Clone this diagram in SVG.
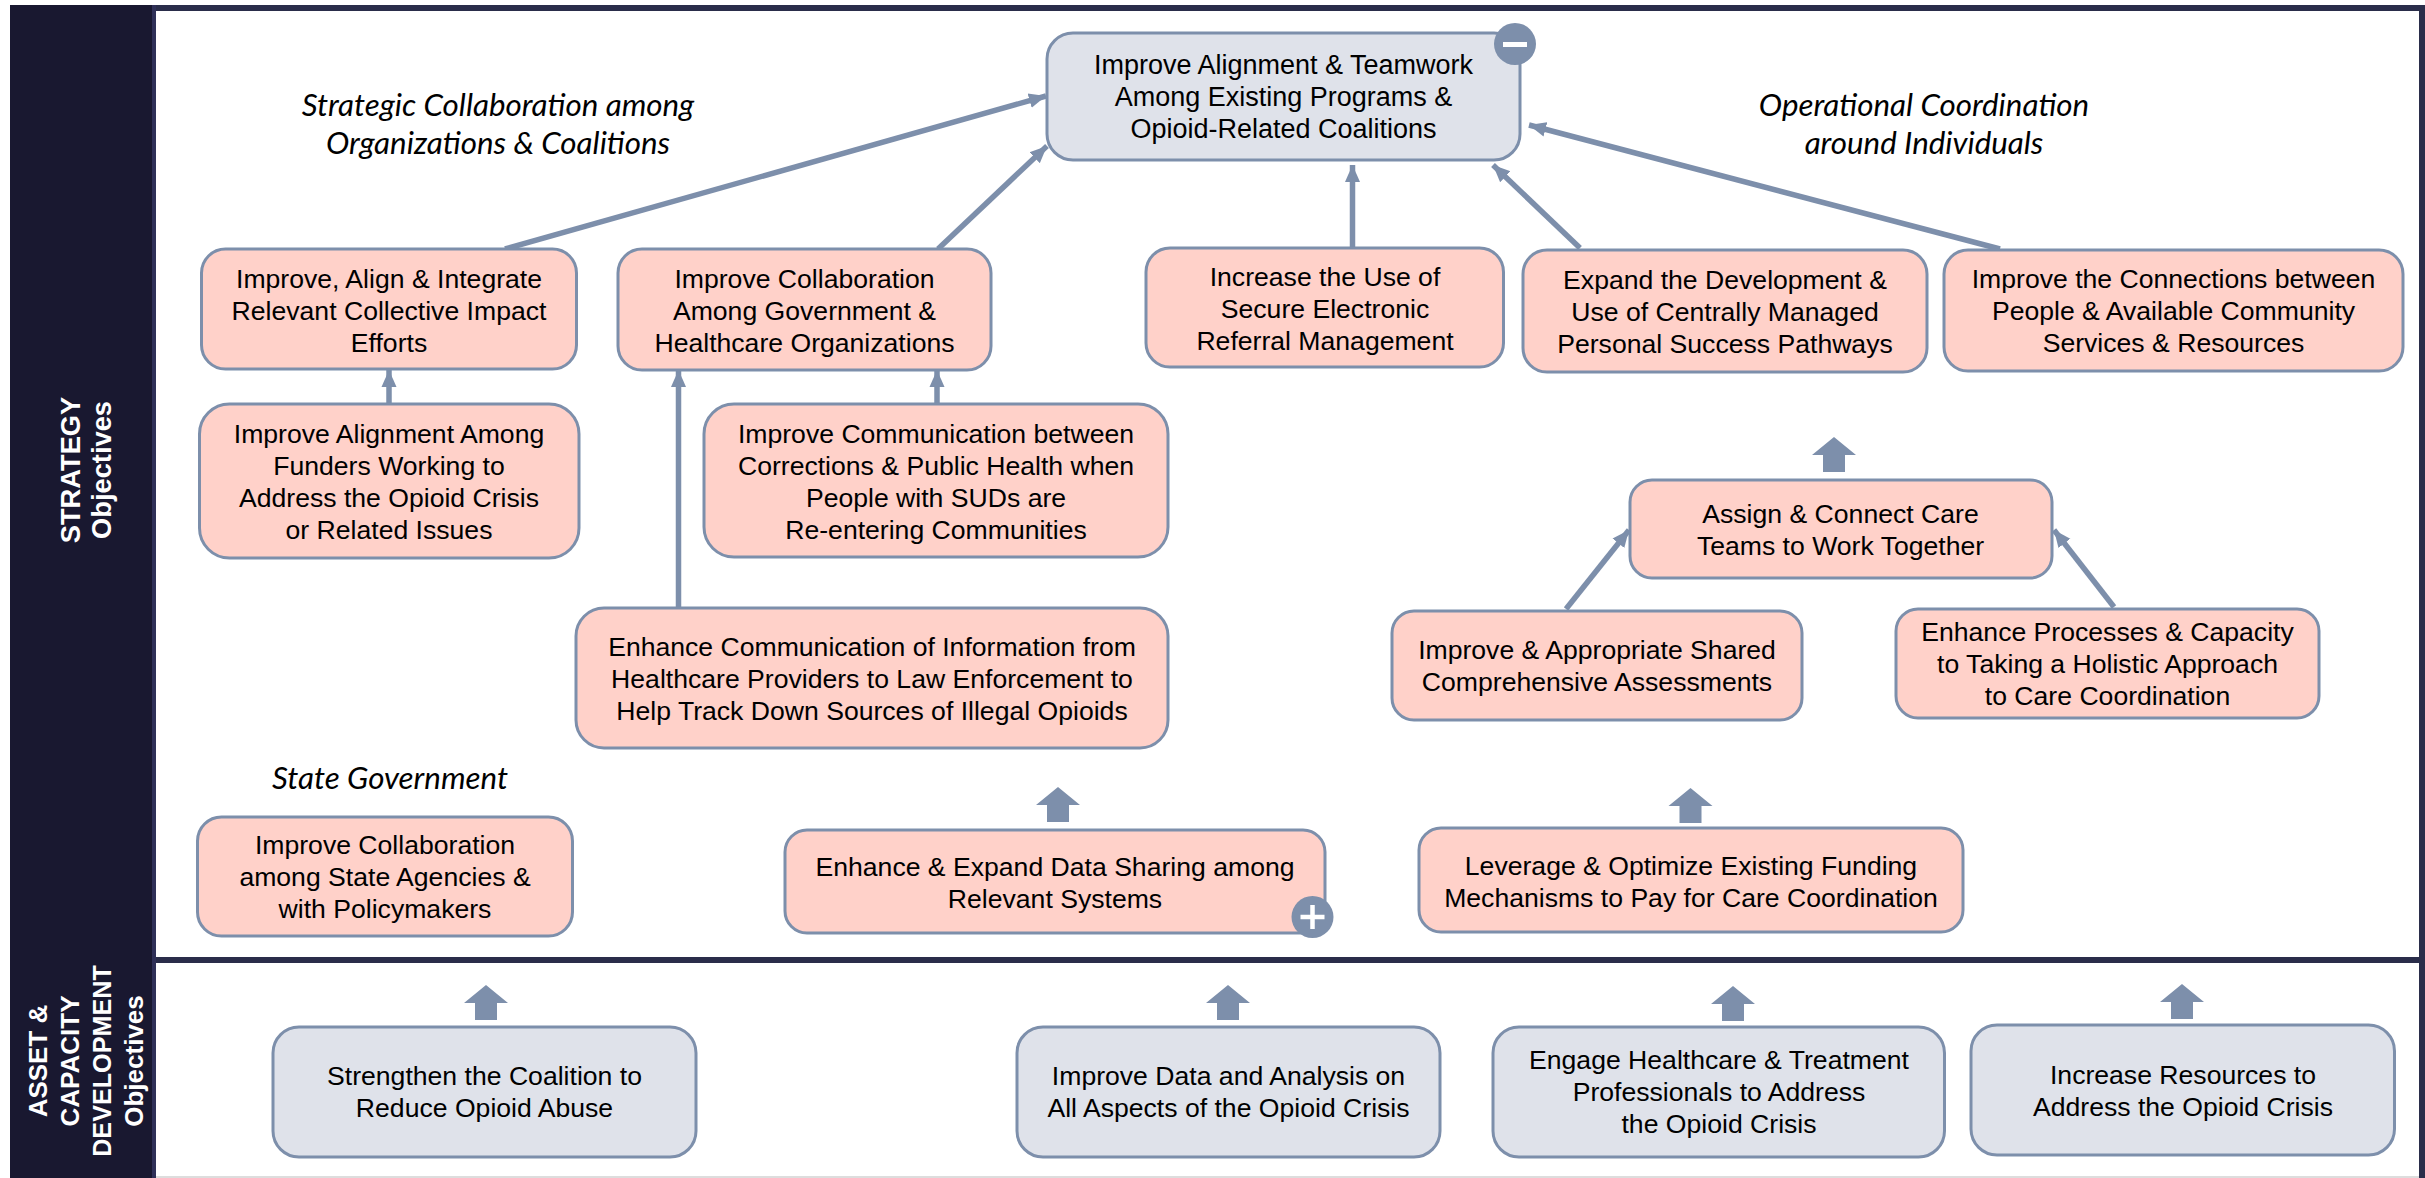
<svg xmlns="http://www.w3.org/2000/svg" width="2425" height="1178" viewBox="0 0 2425 1178">
<style>
.box{stroke:#7d8fab;stroke-width:3}
.p{fill:#ffd1c9}
.g{fill:#dfe2ea}
text{font-family:"Liberation Sans",Arial,sans-serif;font-size:26.6px;fill:#000;text-anchor:middle}
.it{font-family:"Lato","Open Sans",sans-serif;font-style:italic;font-size:31.3px}
.side{font-weight:bold;fill:#fff;font-size:27.3px}
.side2{font-weight:bold;fill:#fff;font-size:26px}
.ln{fill:none;stroke:#7d8fab;stroke-width:5.5;marker-end:url(#ah)}
.blk{fill:#7d8fab}
</style>
<defs>
<marker id="ah" markerUnits="userSpaceOnUse" markerWidth="20" markerHeight="18" refX="17" refY="9" orient="auto"><path d="M0 1.5L17 9L0 16.5Z" fill="#7d8fab"/></marker>
<path id="block" d="M0 0L22 18L11 18L11 35L-11 35L-11 18L-22 18Z"/>
</defs>
<rect width="2425" height="1178" fill="#fff"/>
<g id="frame">
<rect x="10" y="5" width="2415" height="6" fill="#2a2d4a"/>
<rect x="10" y="5" width="146" height="1173" fill="#191830"/>
<rect x="152" y="5" width="4" height="1173" fill="#2f3058"/>
<rect x="156" y="957" width="2269" height="6" fill="#2a2d4a"/>
<rect x="2419" y="5" width="6" height="1173" fill="#2a2d4a"/>
<rect x="156" y="1176" width="2263" height="2" fill="#dddddd"/>
</g>
<g id="side-strategy">
<text class="side" transform="translate(80,470) rotate(-90)">STRATEGY</text>
<text class="side" transform="translate(111,470) rotate(-90)">Objectives</text>
</g>
<g id="side-asset">
<text class="side2" transform="translate(47,1061) rotate(-90)">ASSET &amp;</text>
<text class="side2" transform="translate(79,1061) rotate(-90)">CAPACITY</text>
<text class="side2" style="font-size:25.2px" transform="translate(111,1061) rotate(-90)">DEVELOPMENT</text>
<text class="side2" transform="translate(143,1061) rotate(-90)">Objectives</text>
</g>
<g id="labels">
<text class="it" x="498" y="116">Strategic Collaboration among</text>
<text class="it" x="498" y="154">Organizations &amp; Coalitions</text>
<text class="it" x="1924" y="116">Operational Coordination</text>
<text class="it" x="1924" y="154">around Individuals</text>
<text class="it" x="390" y="789">State Government</text>
</g>
<g id="connectors">
<line class="ln" x1="505" y1="249" x2="1046" y2="96"/>
<line class="ln" x1="938" y1="249" x2="1047" y2="146"/>
<line class="ln" x1="1352.5" y1="248" x2="1352.5" y2="165"/>
<line class="ln" x1="1580" y1="248" x2="1493" y2="165"/>
<line class="ln" x1="2000" y1="249" x2="1529" y2="125"/>
<line class="ln" x1="389" y1="404" x2="389" y2="370"/>
<line class="ln" x1="678.5" y1="608" x2="678.5" y2="370"/>
<line class="ln" x1="937" y1="404" x2="937" y2="370"/>
<line class="ln" x1="1566" y1="609" x2="1629" y2="530"/>
<line class="ln" x1="2114" y1="607" x2="2054" y2="530"/>
<use href="#block" class="blk" x="486" y="985"/>
<use href="#block" class="blk" x="1228" y="985"/>
<use href="#block" class="blk" x="1733" y="986"/>
<use href="#block" class="blk" x="2182" y="984"/>
<use href="#block" class="blk" x="1058" y="787"/>
<use href="#block" class="blk" x="1690.5" y="788"/>
<use href="#block" class="blk" x="1834" y="437"/>
</g>
<g id="n-top"><rect class="box g" x="1047" y="33" width="473" height="127" rx="26"/>
<g style="font-size:27px"><text style="font-size:27px" x="1283.5" y="74">Improve Alignment &amp; Teamwork</text><text style="font-size:27px" x="1283.5" y="106">Among Existing Programs &amp;</text><text style="font-size:27px" x="1283.5" y="138">Opioid-Related Coalitions</text></g>
<circle cx="1515" cy="44" r="21" fill="#7d8fab"/><rect x="1503" y="42" width="24" height="5" fill="#fff"/></g>
<g id="n-align"><rect class="box p" x="201.5" y="249" width="375" height="120" rx="24"/>
<text x="389" y="288">Improve, Align &amp; Integrate</text><text x="389" y="320">Relevant Collective Impact</text><text x="389" y="352">Efforts</text></g>
<g id="n-collab"><rect class="box p" x="618" y="249" width="373" height="121" rx="24"/>
<text x="804.5" y="288">Improve Collaboration</text><text x="804.5" y="320">Among Government &amp;</text><text x="804.5" y="352">Healthcare Organizations</text></g>
<g id="n-referral"><rect class="box p" x="1146" y="248" width="357.5" height="119" rx="24"/>
<text x="1325" y="286">Increase the Use of</text><text x="1325" y="318">Secure Electronic</text><text x="1325" y="350">Referral Management</text></g>
<g id="n-pathways"><rect class="box p" x="1523" y="250" width="404" height="122" rx="24"/>
<text x="1725" y="289">Expand the Development &amp;</text><text x="1725" y="321">Use of Centrally Managed</text><text x="1725" y="353">Personal Success Pathways</text></g>
<g id="n-connections"><rect class="box p" x="1944" y="250" width="459" height="121" rx="24"/>
<text x="2173.5" y="288">Improve the Connections between</text><text x="2173.5" y="320">People &amp; Available Community</text><text x="2173.5" y="352">Services &amp; Resources</text></g>
<g id="n-funders"><rect class="box p" x="199.5" y="404" width="379.5" height="154" rx="30"/>
<text x="389" y="443">Improve Alignment Among</text><text x="389" y="475">Funders Working to</text><text x="389" y="507">Address the Opioid Crisis</text><text x="389" y="539">or Related Issues</text></g>
<g id="n-corrections"><rect class="box p" x="704" y="404" width="464" height="153" rx="30"/>
<text x="936" y="443">Improve Communication between</text><text x="936" y="475">Corrections &amp; Public Health when</text><text x="936" y="507">People with SUDs are</text><text x="936" y="539">Re-entering Communities</text></g>
<g id="n-enforcement"><rect class="box p" x="576" y="608" width="592" height="140" rx="28"/>
<text x="872" y="656">Enhance Communication of Information from</text><text x="872" y="688">Healthcare Providers to Law Enforcement to</text><text x="872" y="720">Help Track Down Sources of Illegal Opioids</text></g>
<g id="n-teams"><rect class="box p" x="1630" y="480" width="422" height="98" rx="22"/>
<text x="1840.5" y="523">Assign &amp; Connect Care</text><text x="1840.5" y="555">Teams to Work Together</text></g>
<g id="n-assess"><rect class="box p" x="1392" y="611" width="410" height="109" rx="22"/>
<text x="1597" y="659">Improve &amp; Appropriate Shared</text><text x="1597" y="691">Comprehensive Assessments</text></g>
<g id="n-holistic"><rect class="box p" x="1896" y="609" width="423" height="109" rx="22"/>
<text x="2107.5" y="641">Enhance Processes &amp; Capacity</text><text x="2107.5" y="673">to Taking a Holistic Approach</text><text x="2107.5" y="705">to Care Coordination</text></g>
<g id="n-state"><rect class="box p" x="197.5" y="817" width="375" height="119" rx="24"/>
<text x="385" y="854">Improve Collaboration</text><text x="385" y="886">among State Agencies &amp;</text><text x="385" y="918">with Policymakers</text></g>
<g id="n-datashare"><rect class="box p" x="785" y="830" width="540" height="103" rx="22"/>
<text x="1055" y="876">Enhance &amp; Expand Data Sharing among</text><text x="1055" y="908">Relevant Systems</text>
<circle cx="1312.5" cy="917" r="21" fill="#7d8fab"/><path d="M1312.5 905V929M1300.5 917H1324.5" stroke="#fff" stroke-width="4.5" fill="none"/></g>
<g id="n-funding"><rect class="box p" x="1419" y="828" width="544" height="104" rx="22"/>
<text x="1691" y="875">Leverage &amp; Optimize Existing Funding</text><text x="1691" y="907">Mechanisms to Pay for Care Coordination</text></g>
<g id="n-coalition"><rect class="box g" x="273" y="1027" width="423" height="130" rx="26"/>
<text x="484.5" y="1085">Strengthen the Coalition to</text><text x="484.5" y="1117">Reduce Opioid Abuse</text></g>
<g id="n-data"><rect class="box g" x="1017" y="1027" width="423" height="130" rx="26"/>
<text x="1228.5" y="1085">Improve Data and Analysis on</text><text x="1228.5" y="1117">All Aspects of the Opioid Crisis</text></g>
<g id="n-engage"><rect class="box g" x="1493" y="1027" width="451.5" height="130" rx="26"/>
<text x="1719" y="1069">Engage Healthcare &amp; Treatment</text><text x="1719" y="1101">Professionals to Address</text><text x="1719" y="1133">the Opioid Crisis</text></g>
<g id="n-resources"><rect class="box g" x="1971" y="1025" width="423.5" height="130" rx="26"/>
<text x="2183" y="1084">Increase Resources to</text><text x="2183" y="1116">Address the Opioid Crisis</text></g>
</svg>
